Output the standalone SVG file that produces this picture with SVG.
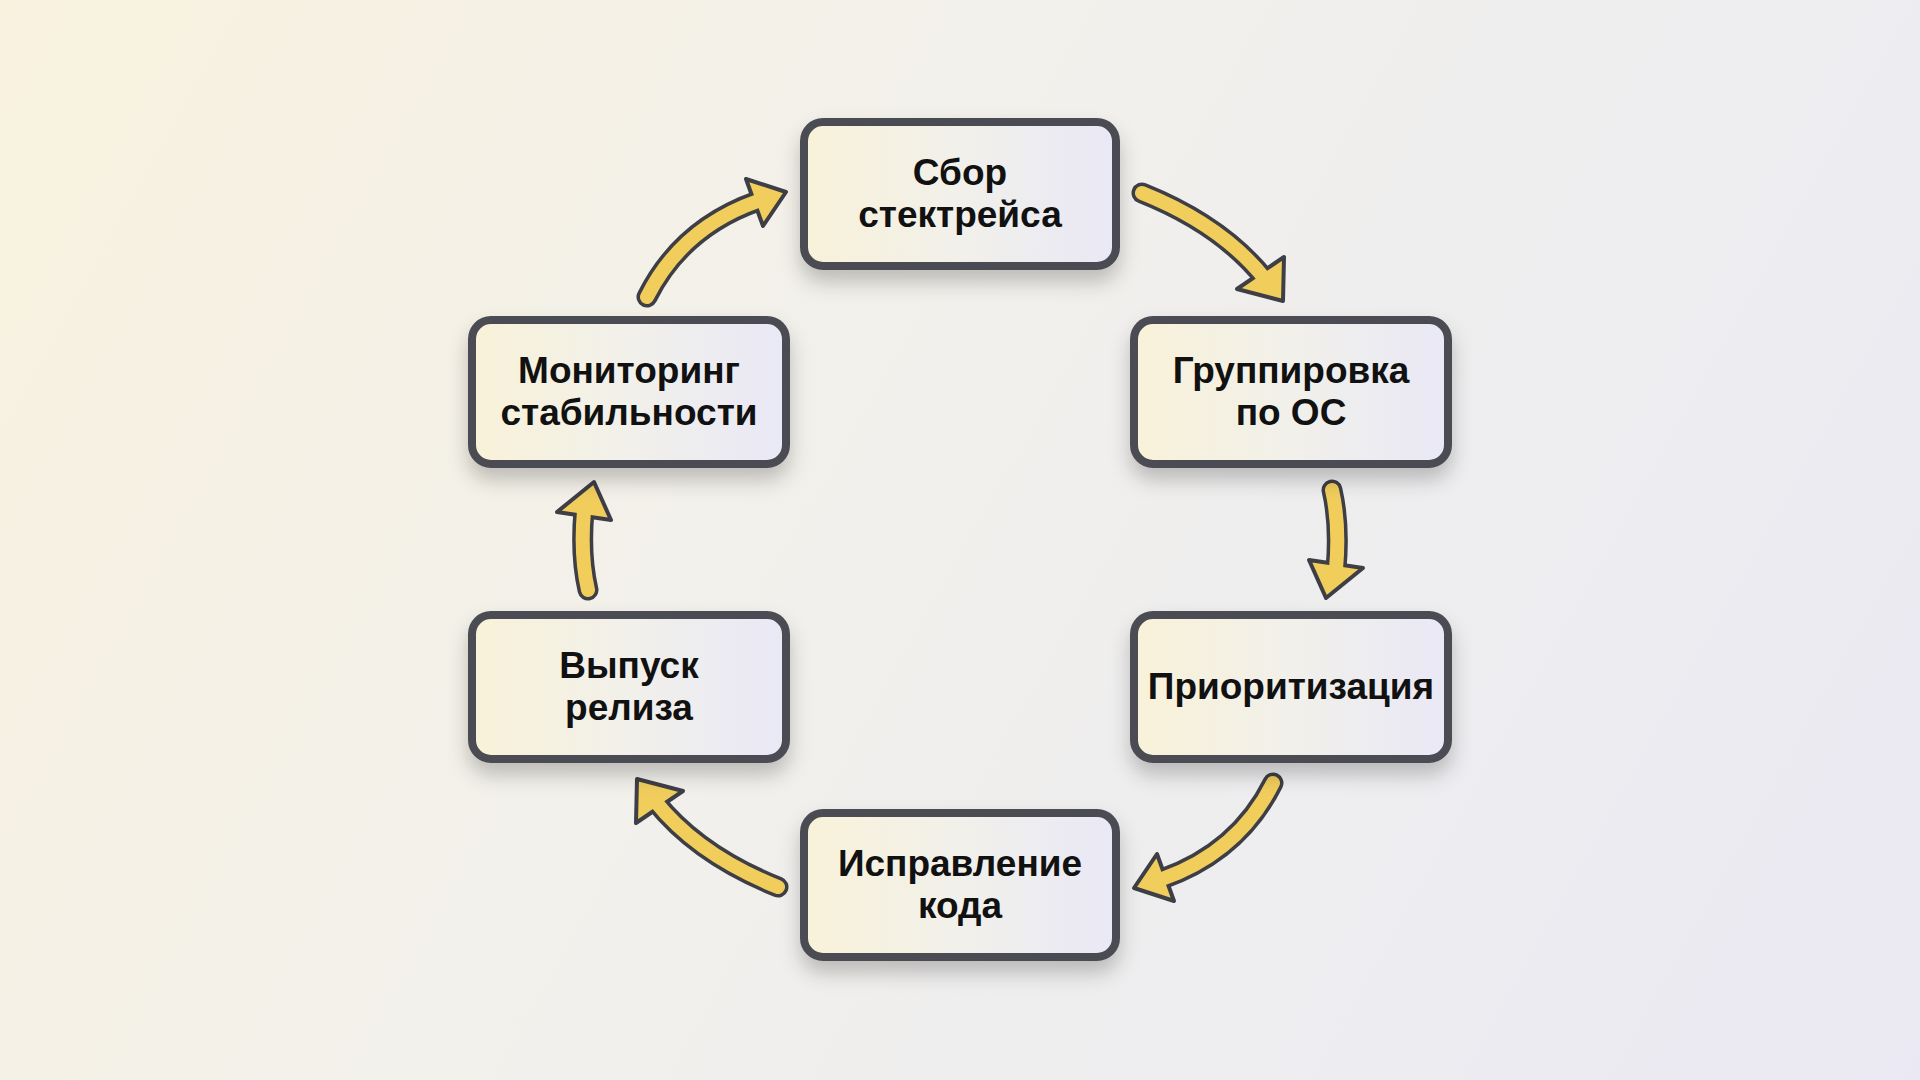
<svg xmlns="http://www.w3.org/2000/svg" width="1920" height="1080" viewBox="0 0 1920 1080">
<defs>
<linearGradient id="bg" x1="0" y1="0" x2="1920" y2="1080" gradientUnits="userSpaceOnUse">
<stop offset="0" stop-color="#f9f2df"/>
<stop offset="0.45" stop-color="#f1f0ec"/>
<stop offset="1" stop-color="#eae9f3"/>
</linearGradient>
<linearGradient id="box" x1="0" y1="0" x2="1" y2="0">
<stop offset="0" stop-color="#f9f2d9"/>
<stop offset="0.5" stop-color="#f1f0ea"/>
<stop offset="1" stop-color="#e9e8f6"/>
</linearGradient>
<filter id="sh" x="-20%" y="-20%" width="140%" height="160%">
<feDropShadow dx="0" dy="12" stdDeviation="10" flood-color="#000" flood-opacity="0.22"/>
</filter>
<g id="a1">
<path class="so" d="M1142,193 Q1222,225 1265,279"/>
<polygon class="hd" points="1237,289 1284,257 1283,301"/>
<path class="si" d="M1142,193 Q1222,225 1265,279"/>
</g>
<g id="a2">
<path class="so" d="M1332,490 Q1340,525 1336,569"/>
<polygon class="hd" points="1309,560 1363,568 1326,598"/>
<path class="si" d="M1332,490 Q1340,525 1336,569"/>
</g>
<g id="a3">
<path class="so" d="M1273,783 Q1238.6,852 1162,879"/>
<polygon class="hd" points="1157,854 1174,901 1134,888"/>
<path class="si" d="M1273,783 Q1238.6,852 1162,879"/>
</g>
</defs>
<style>
.node rect{fill:url(#box);stroke:#4c4c52;stroke-width:8;filter:url(#sh)}
.node text{font-family:"Liberation Sans",Arial,sans-serif;font-weight:bold;font-size:37px;fill:#111;text-anchor:middle}
.so{fill:none;stroke:#3d3e46;stroke-width:21;stroke-linecap:round}
.si{fill:none;stroke:#f1cd5c;stroke-width:14;stroke-linecap:round}
.hd{fill:#f1cd5c;stroke:#3d3e46;stroke-width:4;stroke-linejoin:round}
</style>
<rect width="1920" height="1080" fill="url(#bg)"/>
<g id="connectors">
<use href="#a1"/>
<use href="#a2"/>
<use href="#a3"/>
<use href="#a1" transform="rotate(180 960 540)"/>
<use href="#a2" transform="rotate(180 960 540)"/>
<use href="#a3" transform="rotate(180 960 540)"/>
</g>
<g id="node-sbor" class="node">
<rect x="804" y="122" width="312" height="144" rx="19"/>
<text x="960" y="185">Сбор</text>
<text x="960" y="227">стектрейса</text>
</g>
<g id="node-group" class="node">
<rect x="1134" y="320" width="314" height="144" rx="19"/>
<text x="1291" y="383">Группировка</text>
<text x="1291" y="425">по ОС</text>
</g>
<g id="node-prio" class="node">
<rect x="1134" y="615" width="314" height="144" rx="19"/>
<text x="1291" y="699">Приоритизация</text>
</g>
<g id="node-fix" class="node">
<rect x="804" y="813" width="312" height="144" rx="19"/>
<text x="960" y="876">Исправление</text>
<text x="960" y="918">кода</text>
</g>
<g id="node-release" class="node">
<rect x="472" y="615" width="314" height="144" rx="19"/>
<text x="629" y="678">Выпуск</text>
<text x="629" y="720">релиза</text>
</g>
<g id="node-monitor" class="node">
<rect x="472" y="320" width="314" height="144" rx="19"/>
<text x="629" y="383">Мониторинг</text>
<text x="629" y="425">стабильности</text>
</g>
</svg>
